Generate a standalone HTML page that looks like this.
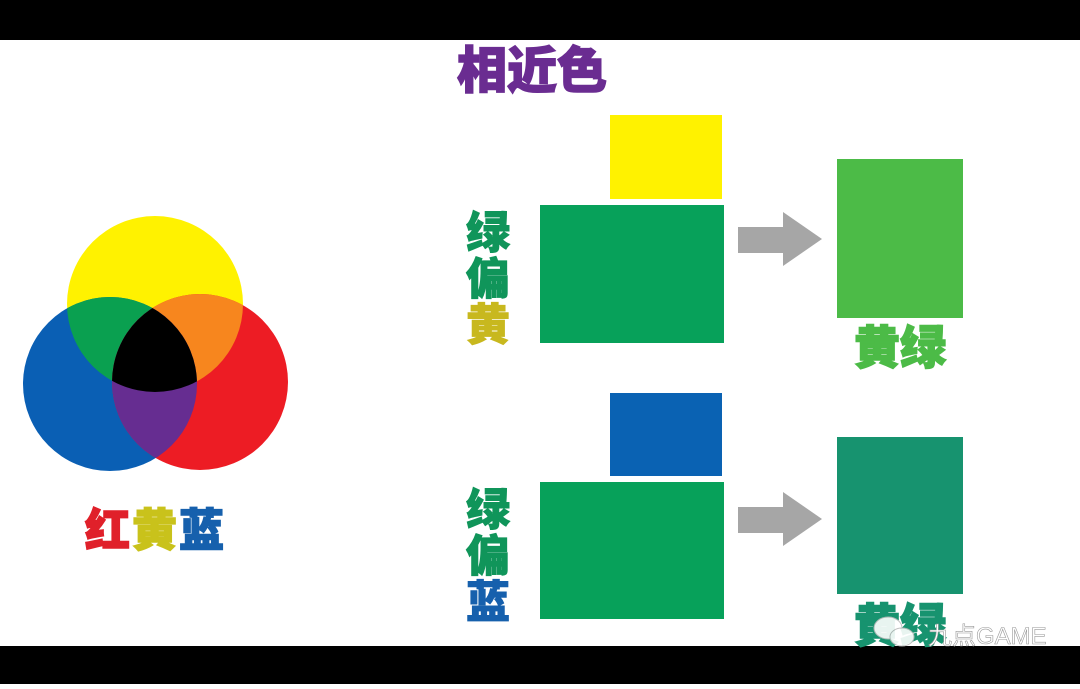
<!DOCTYPE html>
<html><head><meta charset="utf-8"><style>
html,body{margin:0;padding:0;background:#fff;}
body{width:1080px;height:684px;overflow:hidden;position:relative;}
svg text{font-family:"Liberation Sans","Noto Sans CJK SC","WenQuanYi Zen Hei",sans-serif;font-weight:900;}
</style></head><body>
<svg width="1080" height="684" viewBox="0 0 1080 684" xmlns="http://www.w3.org/2000/svg">
<defs>
<clipPath id="cy"><circle cx="155" cy="304" r="88"/></clipPath>
<clipPath id="cb"><circle cx="110" cy="384" r="87"/></clipPath>
<clipPath id="cr"><circle cx="200" cy="382" r="88"/></clipPath>
</defs>
<rect x="0" y="0" width="1080" height="40" fill="#000"/>
<rect x="0" y="646" width="1080" height="38" fill="#000"/>
<text x="532" y="88" font-size="50" fill="#6a2c91" text-anchor="middle" stroke="#6a2c91" stroke-width="1.5">相近色</text>
<!-- venn -->
<circle cx="155" cy="304" r="88" fill="#fff200"/>
<circle cx="110" cy="384" r="87" fill="#0a5fb4"/>
<circle cx="200" cy="382" r="88" fill="#ed1c24"/>
<g clip-path="url(#cy)"><circle cx="110" cy="384" r="87" fill="#0aa050"/><circle cx="200" cy="382" r="88" fill="#f7861e"/></g>
<g clip-path="url(#cb)"><circle cx="200" cy="382" r="88" fill="#662d91"/></g>
<g clip-path="url(#cy)"><g clip-path="url(#cb)"><circle cx="200" cy="382" r="88" fill="#000"/></g></g>
<text x="85" y="546" font-size="45" fill="#e0202a" stroke="#e0202a" stroke-width="1.5">红</text>
<text x="132" y="546" font-size="45" fill="#c9c21b" stroke="#c9c21b" stroke-width="1.5">黄</text>
<text x="179" y="546" font-size="45" fill="#1660ad" stroke="#1660ad" stroke-width="1.5">蓝</text>
<!-- top row -->
<rect x="610" y="115" width="112" height="84" fill="#fff200"/>
<rect x="540" y="205" width="184" height="138" fill="#07a15a"/>
<polygon points="738,227 783,227 783,212 822,239 783,266 783,253 738,253" fill="#a6a6a6"/>
<rect x="837" y="159" width="126" height="159" fill="#4cbb47"/>
<text x="900" y="364" font-size="46" fill="#4cbb47" text-anchor="middle" stroke="#4cbb47" stroke-width="1.5">黄绿</text>
<text x="466" y="248" font-size="44" fill="#10955a" stroke="#10955a" stroke-width="1">绿</text>
<text x="466" y="294" font-size="44" fill="#10955a" stroke="#10955a" stroke-width="1">偏</text>
<text x="466" y="340" font-size="44" fill="#c8b81e" stroke="#c8b81e" stroke-width="1">黄</text>
<!-- bottom row -->
<rect x="610" y="393" width="112" height="83" fill="#0a62b3"/>
<rect x="540" y="482" width="184" height="137" fill="#07a15a"/>
<polygon points="738,507 783,507 783,492 822,519 783,546 783,533 738,533" fill="#a6a6a6"/>
<rect x="837" y="437" width="126" height="157" fill="#17936f"/>
<text x="900" y="642" font-size="46" fill="#17936f" text-anchor="middle" stroke="#17936f" stroke-width="1.5">黄绿</text>
<text x="466" y="525" font-size="44" fill="#10955a" stroke="#10955a" stroke-width="1">绿</text>
<text x="466" y="571" font-size="44" fill="#10955a" stroke="#10955a" stroke-width="1">偏</text>
<text x="466" y="617" font-size="44" fill="#1660ad" stroke="#1660ad" stroke-width="1">蓝</text>
<!-- watermark -->
<g opacity="0.9"><ellipse cx="888" cy="628" rx="14" ry="11" fill="#fff" stroke="#bbb"/><ellipse cx="902" cy="637" rx="12" ry="9" fill="#fff" stroke="#bbb"/></g>
<text x="928" y="644" font-size="24" fill="#fff" stroke="#999" stroke-width="0.6" style="font-weight:400">九点GAME</text>
</svg>
</body></html>
